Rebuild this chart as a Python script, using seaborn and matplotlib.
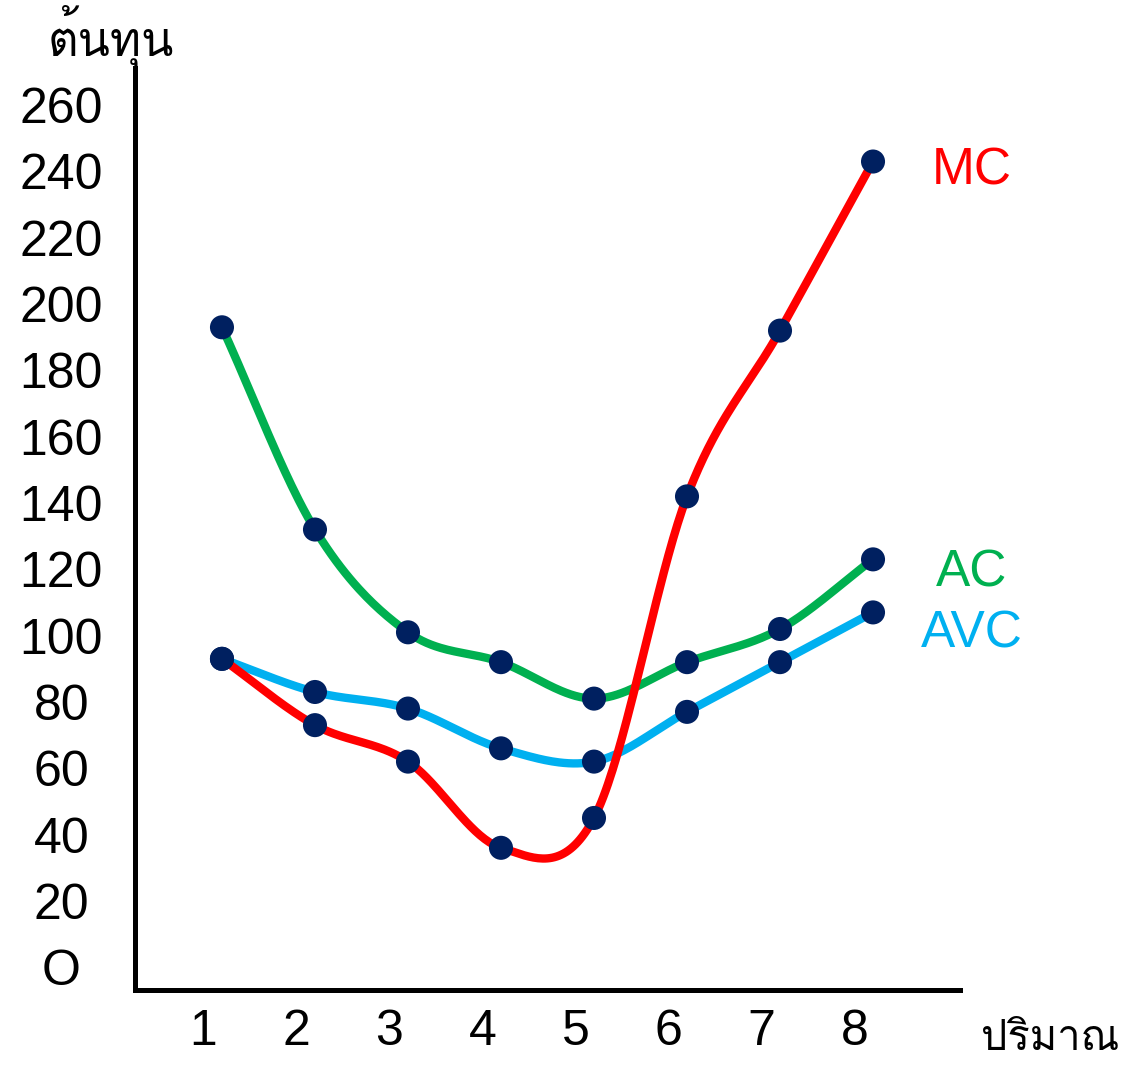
import numpy as np
import pandas as pd
import seaborn as sns
import matplotlib
matplotlib.use("Agg")
import matplotlib.pyplot as plt
import matplotlib.font_manager as fm
from matplotlib.ft2font import FT2Font

# ---------------- data ----------------
quantity = [1, 2, 3, 4, 5, 6, 7, 8]
mc = [93, 73, 62, 36, 45, 142, 192, 243]
ac = [193, 132, 101, 92, 81, 92, 102, 123]
avc = [93, 83, 78, 66, 62, 77, 92, 107]
y_ticks = [0, 20, 40, 60, 80, 100, 120, 140, 160, 180, 200, 220, 240, 260]
y_tick_labels = ["O", "20", "40", "60", "80", "100", "120", "140", "160",
                 "180", "200", "220", "240", "260"]
x_tick_labels = ["1", "2", "3", "4", "5", "6", "7", "8"]
y_title = "ต้นทุน"
x_title = "ปริมาณ"
series_names = ["MC", "AC", "AVC"]

# ---------------- fonts ----------------
sns.set_theme(style="white")
names = {f.name for f in fm.fontManager.ttflist}
base_font = "Liberation Sans" if "Liberation Sans" in names else "DejaVu Sans"
narrow_font = "Liberation Sans Narrow" if "Liberation Sans Narrow" in names else base_font

thai_font = None
for f in fm.fontManager.ttflist:
    try:
        cmap = FT2Font(f.fname).get_charmap()
        if 0x0E15 in cmap and 0x0E38 in cmap and 0x0E13 in cmap:
            thai_font = f.name
            break
    except Exception:
        pass
thai_family = [thai_font, base_font] if thai_font else [base_font]
plt.rcParams["font.family"] = [base_font, "DejaVu Sans"]
plt.rcParams["text.color"] = "black"


def smooth(xs, ys, n=40):
    """Catmull-Rom style smoothing (like office 'smoothed line')."""
    xs = np.asarray(xs, float)
    ys = np.asarray(ys, float)
    px, py = [], []
    k = len(xs)
    for i in range(k - 1):
        x0, x1 = xs[i], xs[i + 1]
        y0, y1 = ys[i], ys[i + 1]
        mx0 = (xs[i + 1] - xs[i - 1]) / 2 if i > 0 else (x1 - x0)
        my0 = (ys[i + 1] - ys[i - 1]) / 2 if i > 0 else (y1 - y0)
        mx1 = (xs[i + 2] - xs[i]) / 2 if i + 2 < k else (x1 - x0)
        my1 = (ys[i + 2] - ys[i]) / 2 if i + 2 < k else (y1 - y0)
        t = np.linspace(0, 1, n, endpoint=(i == k - 2))
        h00 = 2 * t**3 - 3 * t**2 + 1
        h10 = t**3 - 2 * t**2 + t
        h01 = -2 * t**3 + 3 * t**2
        h11 = t**3 - t**2
        px.append(h00 * x0 + h10 * mx0 + h01 * x1 + h11 * mx1)
        py.append(h00 * y0 + h10 * my0 + h01 * y1 + h11 * my1)
    return np.concatenate(px), np.concatenate(py)


colors = {"MC": "#FF0000", "AC": "#00B050", "AVC": "#00B0F0"}
dot_color = "#002060"

fig = plt.figure(figsize=(11.27, 10.68), dpi=100)
ax = fig.add_axes([0.1198, 0.0730, 0.7320, 0.8633])

series = {"MC": mc, "AC": ac, "AVC": avc}
order = ["AC", "AVC", "MC"]
for name in order:
    sx, sy = smooth(quantity, series[name])
    curve = pd.DataFrame({"x": sx, "y": sy})
    sns.lineplot(data=curve, x="x", y="y", ax=ax, color=colors[name],
                 linewidth=6.0, sort=False, estimator=None,
                 solid_capstyle="butt", zorder=2)

points = pd.DataFrame({
    "q": quantity * 3,
    "v": mc + ac + avc,
})
sns.scatterplot(data=points, x="q", y="v", ax=ax, color=dot_color, s=300,
                edgecolor="none", zorder=5)

ax.set_xlim(0.065, 8.935)
ax.set_ylim(-6.9, 271.2)

ax.set_xticks([q - 0.2 for q in quantity])
ax.set_xticklabels(x_tick_labels, fontsize=36, family=[narrow_font, base_font])
ax.set_yticks(y_ticks)
ax.set_yticklabels(y_tick_labels, fontsize=36)
for lbl in ax.get_yticklabels():
    lbl.set_horizontalalignment("center")
ax.tick_params(axis="y", length=0, pad=53, colors="black")
ax.tick_params(axis="x", length=0, pad=14, colors="black")

ax.set_xlabel("")
ax.set_ylabel("")
for side in ["top", "right"]:
    ax.spines[side].set_visible(False)
for side in ["left", "bottom"]:
    ax.spines[side].set_linewidth(3.6)
    ax.spines[side].set_color("black")

label_pos = {"MC": (9.06, 240), "AC": (9.06, 119), "AVC": (9.06, 100.5)}
for name in series_names:
    x, y = label_pos[name]
    ax.text(x, y, name, color=colors[name], fontsize=37, ha="center",
            va="center", clip_on=False)

fig.text(111 / 1127, 1 - 36 / 1068, y_title, fontsize=34, ha="center",
         va="center", family=thai_family, color="black")
fig.text(1050 / 1127, 1 - 1040 / 1068, x_title, fontsize=30, ha="center",
         va="center", family=thai_family, color="black")

fig.savefig("out.png", dpi=100)
